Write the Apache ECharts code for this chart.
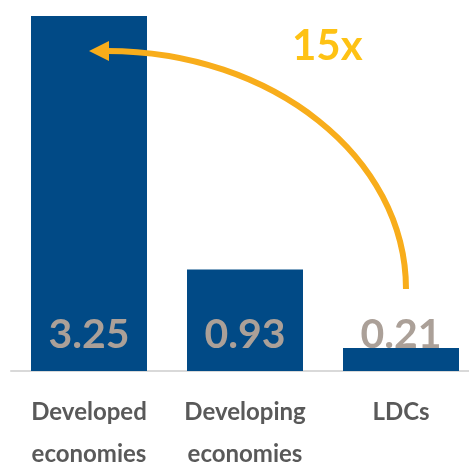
<!DOCTYPE html>
<html>
<head>
<meta charset="utf-8">
<script src="https://cdn.jsdelivr.net/npm/echarts@6/dist/echarts.min.js"></script>
<style>html,body{margin:0;padding:0;background:#fff}#c{width:469px;height:463px}</style>
</head>
<body>
<div id="c"></div>
<script>
var categories = ['Developed\neconomies', 'Developing\neconomies', 'LDCs'];
var values = [3.25, 0.93, 0.21];
var ratioLabel = '15x';

var chart = echarts.init(document.getElementById('c'), null, {renderer: 'canvas'});
var option = {
  animation: false,
  grid: {left: 11, width: 468, top: 16, bottom: 92, containLabel: false, outerBoundsMode: 'none'},
  xAxis: {
    type: 'category',
    data: categories,
    axisLine: {show: true, lineStyle: {color: '#d9d9d9', width: 2}},
    axisTick: {show: false},
    axisLabel: {
      interval: 0,
      color: '#595959', fontFamily: 'Lato', fontWeight: 'bold', fontSize: 24,
      lineHeight: 42, margin: 20
    }
  },
  yAxis: {type: 'value', min: 0, max: 3.25, show: false, splitLine: {show: false}},
  series: [{
    type: 'bar',
    data: values,
    barWidth: 116,
    itemStyle: {color: '#014a86'},
    label: {
      show: true,
      position: 'insideBottom',
      distance: 16,
      color: '#aba098',
      fontFamily: 'Lato',
      fontWeight: 'bold',
      fontSize: 41,
      formatter: function (p) { return p.value.toFixed(2); }
    }
  }]
};
chart.setOption(option);

var p0 = chart.convertToPixel({xAxisIndex: 0, yAxisIndex: 0}, [0, values[0]]);
var p2 = chart.convertToPixel({xAxisIndex: 0, yAxisIndex: 0}, [2, values[2]]);
var sx = p2[0] + 5, sy = p2[1] - 59;
var ex = p0[0] + 18, ey = p0[1] + 35;
var k = 0.5523;
chart.setOption({
  graphic: [
    {
      type: 'bezierCurve', z: 100,
      shape: {x1: sx, y1: sy, cpx1: sx, cpy1: sy - (sy - ey) * k, cpx2: ex + (sx - ex) * k, cpy2: ey, x2: ex, y2: ey},
      style: {stroke: '#f8ad1b', lineWidth: 6, fill: null}
    },
    {
      type: 'polygon', z: 100,
      shape: {points: [[p0[0], ey], [ex + 2, ey - 10], [ex + 2, ey + 10]]},
      style: {fill: '#f8ad1b'}
    },
    {
      type: 'text', z: 100,
      left: 292, top: 25,
      style: {text: ratioLabel, fill: '#fec214', font: 'bold 42px Lato'}
    }
  ]
});
</script>
</body>
</html>
